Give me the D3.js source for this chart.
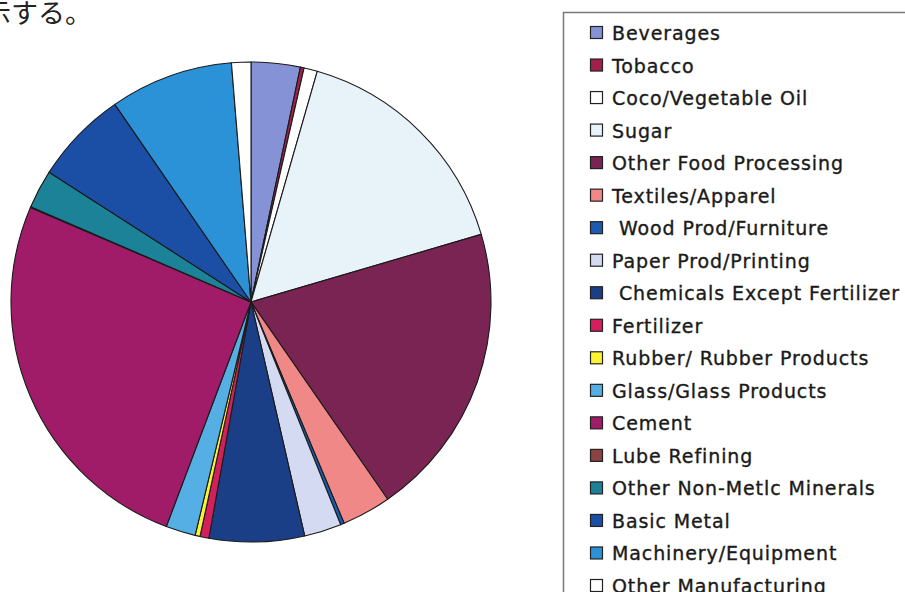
<!DOCTYPE html>
<html>
<head>
<meta charset="utf-8">
<script src="https://cdn.jsdelivr.net/npm/d3@7"></script>
<style>
  html, body { margin: 0; padding: 0; background: #fff; }
  svg { display: block; }
</style>
</head>
<body>
<svg id="chart" width="905" height="592"></svg>
<script>
// Share of manufacturing output by sub-sector (%)
const categories = [
  "Beverages", "Tobacco", "Coco/Vegetable Oil", "Sugar",
  "Other Food Processing", "Textiles/Apparel", " Wood Prod/Furniture",
  "Paper Prod/Printing", " Chemicals Except Fertilizer", "Fertilizer",
  "Rubber/ Rubber Products", "Glass/Glass Products", "Cement",
  "Lube Refining", "Other Non-Metlc Minerals", "Basic Metal",
  "Machinery/Equipment", "Other Manufacturing"
];
const values = [3.3, 0.25, 0.9, 16.0, 19.9, 3.3, 0.25, 2.5, 6.4, 0.6,
                0.33, 2.0, 25.7, 0.05, 2.6, 6.3, 8.3, 1.3];

// Fill for each sector, same order as categories
const palette = [
  "#8592d6", "#a3204c", "#ffffff", "#e7f2f9", "#7a2454", "#f08888",
  "#1c5cae", "#d3daf2", "#1b3f86", "#d3205c", "#fbf531", "#55aee4",
  "#a01b68", "#8a4242", "#1c8298", "#1b4fa6", "#2b92d8", "#ffffff"
];

const svg = d3.select("#chart");

// Caption fragment at the top-left corner
svg.append("text")
  .attr("x", -16).attr("y", 23)
  .attr("font-family", "'Noto Sans CJK JP', sans-serif")
  .attr("font-size", 27)
  .attr("fill", "#222")
  .text("示する。");

// Pie
const cx = 251, cy = 302, radius = 240;
const pie = d3.pie().sort(null).value(d => d.value);
const arc = d3.arc().innerRadius(0).outerRadius(radius);
const data = categories.map((c, i) => ({ name: c, value: values[i], color: palette[i] }));

const g = svg.append("g").attr("transform", `translate(${cx},${cy})`);
g.selectAll("path")
  .data(pie(data))
  .join("path")
  .attr("d", arc)
  .attr("fill", d => d.data.color)
  .attr("stroke", "#1a1a1a")
  .attr("stroke-width", 1.1)
  .attr("stroke-linejoin", "round");

// Legend
const legend = svg.append("g");
legend.append("rect")
  .attr("x", 563.5).attr("y", 12.5)
  .attr("width", 400).attr("height", 620)
  .attr("fill", "#fff")
  .attr("stroke", "#7a7a7a")
  .attr("stroke-width", 1.5);

const rowY = d3.scaleLinear().domain([0, categories.length - 1]).range([33, 586]);

const rows = legend.selectAll("g.row")
  .data(data)
  .join("g")
  .attr("class", "row")
  .attr("transform", (d, i) => `translate(0,${rowY(i)})`);

rows.append("rect")
  .attr("x", 590.5).attr("y", -6.5)
  .attr("width", 12).attr("height", 12)
  .attr("fill", d => d.color)
  .attr("stroke", "#222")
  .attr("stroke-width", 1.2);

rows.append("text")
  .attr("x", 612).attr("y", 7)
  .attr("font-family", "'DejaVu Sans', sans-serif")
  .attr("font-size", 19)
  .attr("letter-spacing", 0.9)
  .attr("fill", "#1a1a1a")
  .attr("stroke", "#1a1a1a")
  .attr("stroke-width", 0.35)
  .attr("xml:space", "preserve")
  .style("white-space", "pre")
  .text(d => d.name);
</script>
</body>
</html>
